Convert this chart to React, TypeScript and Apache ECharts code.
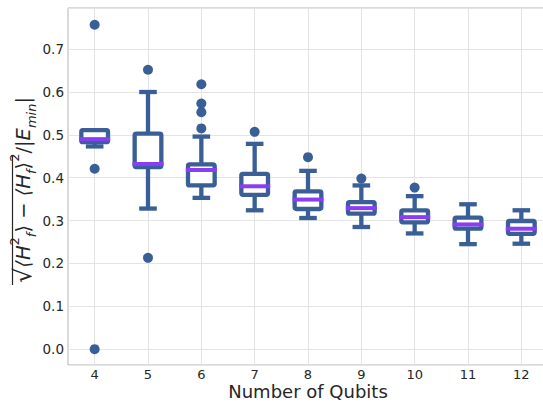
import React, { useEffect, useRef } from 'react';
import * as echarts from 'echarts';

const qubits = ['4', '5', '6', '7', '8', '9', '10', '11', '12'];
const whiskerLow = [0.473, 0.328, 0.353, 0.324, 0.306, 0.285, 0.270, 0.245, 0.246];
const q1 = [0.483, 0.425, 0.382, 0.360, 0.327, 0.316, 0.296, 0.281, 0.269];
const medians = [0.490, 0.432, 0.418, 0.380, 0.349, 0.329, 0.308, 0.291, 0.281];
const q3 = [0.511, 0.503, 0.431, 0.409, 0.368, 0.343, 0.324, 0.307, 0.299];
const whiskerHigh = [0.511, 0.600, 0.496, 0.479, 0.416, 0.382, 0.357, 0.338, 0.324];
const outlierQubits = ['4', '4', '4', '5', '5', '6', '6', '6', '6', '7', '8', '9', '10'];
const outlierValues = [0.757, 0.421, 0.0, 0.652, 0.213, 0.618, 0.573, 0.553, 0.515, 0.507, 0.448, 0.398, 0.377];

const BLUE = '#395f96';
const PURPLE = '#8b3cf6';
const FONT = 'DejaVu Sans';

export default function App() {
  const ref = useRef<HTMLDivElement>(null);
  useEffect(() => {
    document.body.style.margin = '0';
    const chart = echarts.init(ref.current!, null, { renderer: 'svg' });
    const boxData = qubits.map((_, i) => [i, whiskerLow[i], q1[i], medians[i], q3[i], whiskerHigh[i]]);
    const outlierData = outlierQubits.map((q, i) => [q, outlierValues[i]]);
    chart.setOption({
      animation: false,
      grid: {
        left: 68, top: 8, right: -5, bottom: 38,
        containLabel: false,
        outerBoundsMode: 'none',
        show: true, borderColor: '#b3b3b3', borderWidth: 1, backgroundColor: 'transparent',
      },
      xAxis: {
        type: 'category',
        data: qubits,
        boundaryGap: true,
        axisLine: { show: false },
        axisTick: { show: false, alignWithLabel: true },
        splitLine: { show: true, alignWithLabel: true, lineStyle: { color: '#e4e4e4', width: 1 } },
        axisLabel: { fontFamily: FONT, fontSize: 13, color: '#262626', margin: 3, lineHeight: 13 },
        name: 'Number of Qubits',
        nameLocation: 'middle',
        nameGap: 18,
        nameMoveOverlap: false,
        nameTextStyle: { fontFamily: FONT, fontSize: 18, color: '#262626', verticalAlign: 'top', lineHeight: 16 },
      },
      yAxis: {
        type: 'value',
        min: -0.037,
        max: 0.796,
        minInterval: 0.1,
        maxInterval: 0.1,
        axisLine: { show: false },
        axisTick: { show: false },
        splitLine: { show: true, lineStyle: { color: '#e4e4e4', width: 1 } },
        axisLabel: {
          fontFamily: FONT, fontSize: 13.5, color: '#262626', margin: 4,
          showMinLabel: false, showMaxLabel: false,
          formatter: (v: number) => (Math.abs(v * 10 - Math.round(v * 10)) > 1e-6 ? '' : v.toFixed(1)),
        },
      },
      graphic: [
        {
          type: 'text',
          x: 23,
          y: 190,
          rotation: Math.PI / 2,
          style: {
            text: '{r|√}{i|⟨H}{sp|2}{sb|f}{n|⟩ − }{i|⟨H}{sb|f}{n|⟩}{sp|2}{n|/|}{i|E}{sb|min}{n||}',
            align: 'center',
            verticalAlign: 'middle',
            fill: '#262626',
            rich: {
              r: { fontFamily: FONT, fontSize: 24, color: '#262626', lineHeight: 30 },
              n: { fontFamily: FONT, fontSize: 19.5, color: '#262626', lineHeight: 30 },
              i: { fontFamily: FONT, fontSize: 19.5, fontStyle: 'italic', color: '#262626', lineHeight: 30 },
              sb: { fontFamily: FONT, fontSize: 13, fontStyle: 'italic', color: '#262626', verticalAlign: 'bottom' },
              sp: { fontFamily: FONT, fontSize: 13, color: '#262626', verticalAlign: 'top' },
            },
          },
        },
        {
          type: 'line',
          shape: { x1: 12.5, y1: 285, x2: 12.5, y2: 155 },
          style: { stroke: '#262626', lineWidth: 1.2 },
        },
      ],
      series: [
        {
          type: 'custom',
          data: boxData,
          encode: { x: 0, y: [1, 2, 3, 4, 5] },
          z: 3,
          renderItem: (params: any, api: any) => {
            const i = api.value(0);
            const low = api.coord([i, api.value(1)]);
            const pq1 = api.coord([i, api.value(2)]);
            const pmed = api.coord([i, api.value(3)]);
            const pq3 = api.coord([i, api.value(4)]);
            const high = api.coord([i, api.value(5)]);
            const band = api.size([1, 0])[0];
            const bw = band * 0.5;
            const cw = band * 0.33;
            const cx = low[0];
            const lw = 4.3;
            const st = { stroke: BLUE, lineWidth: lw, fill: 'none', lineCap: 'butt' };
            return {
              type: 'group',
              children: [
                { type: 'line', shape: { x1: cx, y1: pq1[1], x2: cx, y2: low[1] }, style: st },
                { type: 'line', shape: { x1: cx, y1: pq3[1], x2: cx, y2: high[1] }, style: st },
                { type: 'line', shape: { x1: cx - cw / 2, y1: low[1], x2: cx + cw / 2, y2: low[1] }, style: st },
                { type: 'line', shape: { x1: cx - cw / 2, y1: high[1], x2: cx + cw / 2, y2: high[1] }, style: st },
                {
                  type: 'rect',
                  shape: { x: cx - bw / 2, y: pq3[1], width: bw, height: pq1[1] - pq3[1], r: 1.5 },
                  style: { fill: '#ffffff', stroke: BLUE, lineWidth: lw, lineJoin: 'round' },
                },
                {
                  type: 'line',
                  shape: { x1: cx - bw / 2 - lw / 2, y1: pmed[1], x2: cx + bw / 2 + lw / 2, y2: pmed[1] },
                  style: { stroke: PURPLE, lineWidth: 4, lineCap: 'butt' },
                },
              ],
            };
          },
        },
        {
          type: 'scatter',
          data: outlierData,
          symbol: 'circle',
          symbolSize: 10,
          z: 4,
          itemStyle: { color: BLUE, opacity: 1 },
        },
      ],
    });
    return () => chart.dispose();
  }, []);
  return <div ref={ref} style={{ width: 543, height: 403 }} />;
}
